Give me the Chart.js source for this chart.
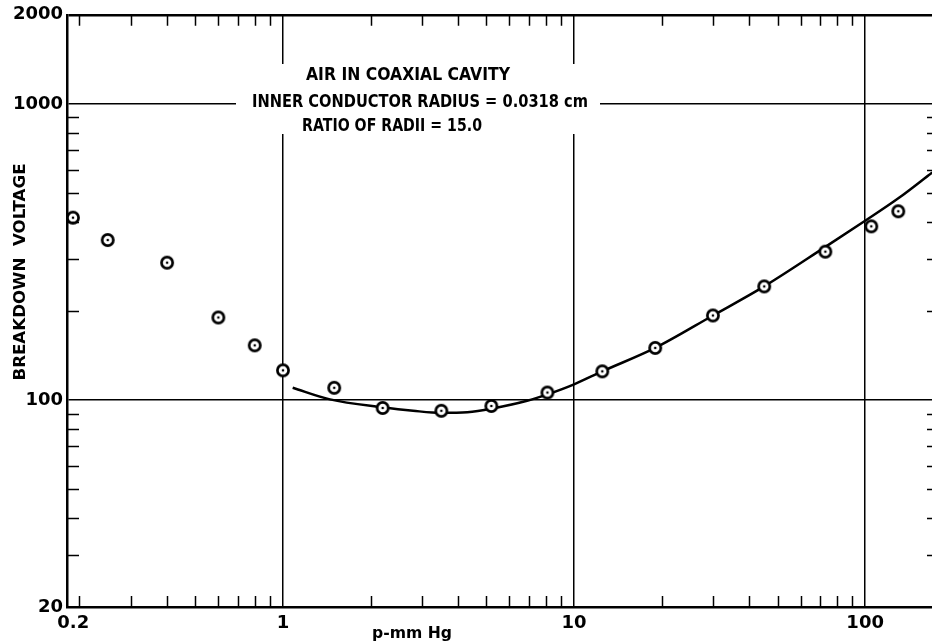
<!DOCTYPE html>
<html>
<head>
<meta charset="utf-8">
<script src="https://cdn.jsdelivr.net/npm/chart.js@4.4.1/dist/chart.umd.min.js"></script>
<style>
  html, body { margin: 0; padding: 0; background: #fff; }
  #wrap { width: 932px; height: 644px; position: relative; }
</style>
</head>
<body>
<div id="wrap"><canvas id="c" width="932" height="644"></canvas></div>
<script>
// ---- data ----
const pressure = [0.19, 0.25, 0.4, 0.6, 0.8, 1.0, 1.5, 2.2, 3.5, 5.2, 8.1, 12.5, 19, 30, 45, 73, 105, 130];
const voltage  = [413, 347, 291, 190, 153, 126, 110, 94, 92, 95.5, 106, 125, 150, 193, 242, 317, 386, 434];

const curvePressure = [1.08, 1.45, 2.2, 2.8, 3.5, 4.3, 5.2, 6.9, 8.1, 10, 12.5, 19, 30, 45, 73, 100, 130, 170];
const curveVoltage  = [110, 100.5, 94.5, 92, 90.5, 91, 93.5, 99.4, 104.5, 113, 125, 150, 193, 242, 329, 403, 480, 587];

const xTickValues = [0.2, 1, 10, 100];
const yTickValues = [20, 100, 1000, 2000];
const xMinorTicks = [0.2, 0.3, 0.4, 0.5, 0.6, 0.7, 0.8, 0.9, 2, 3, 4, 5, 6, 7, 8, 9, 20, 30, 40, 50, 60, 70, 80, 90];
const yMinorTicks = [30, 40, 50, 60, 70, 80, 90, 200, 300, 400, 500, 600, 700, 800, 900];

const annotationLines = ['AIR IN COAXIAL CAVITY', 'INNER CONDUCTOR RADIUS = 0.0318 cm', 'RATIO OF RADII = 15.0'];
const xTitle = 'p-mm Hg';
const yTitle = 'BREAKDOWN  VOLTAGE';

// ---- marker: ring with centre dot ----
function makeMarker() {
  const c = document.createElement('canvas');
  c.width = 18; c.height = 18;
  const g = c.getContext('2d');
  g.fillStyle = '#fff';
  g.strokeStyle = '#000';
  g.lineWidth = 2.7;
  g.beginPath(); g.arc(9, 9, 5.6, 0, Math.PI * 2); g.fill(); g.stroke();
  g.fillStyle = '#000';
  g.beginPath(); g.arc(9, 9, 1.3, 0, Math.PI * 2); g.fill();
  return c;
}

const FONT = '"DejaVu Sans", "Liberation Sans", sans-serif';
Chart.defaults.font.family = FONT;
Chart.defaults.font.weight = 'bold';
Chart.defaults.color = '#000';

function fitText(ctx, text, cx, cy, w, rotate) {
  const m = ctx.measureText(text).width;
  ctx.save();
  ctx.translate(cx, cy);
  if (rotate) ctx.rotate(-Math.PI / 2);
  ctx.scale(w / m, 1);
  ctx.fillText(text, 0, 0);
  ctx.restore();
}

const decor = {
  id: 'decor',
  beforeDatasetsDraw(chart) {
    const ctx = chart.ctx;
    ctx.save();
    // white panel interrupting the grid behind the annotation
    ctx.fillStyle = '#fff';
    ctx.fillRect(236, 64, 364, 70);
    ctx.fillStyle = '#000';
    ctx.textAlign = 'center';
    ctx.textBaseline = 'middle';
    ctx.font = 'bold 17px ' + FONT;
    const spec = [
      { cx: 408, cy: 76, w: 204 },
      { cx: 420, cy: 103, w: 336 },
      { cx: 392, cy: 127, w: 180 }
    ];
    annotationLines.forEach((t, i) => fitText(ctx, t, spec[i].cx, spec[i].cy, spec[i].w, false));
    ctx.restore();
  },
  afterDraw(chart) {
    const ctx = chart.ctx;
    const a = chart.chartArea;
    const xs = chart.scales.x, ys = chart.scales.y;
    ctx.save();
    ctx.strokeStyle = '#000';
    ctx.lineWidth = 1.5;
    ctx.beginPath();
    xMinorTicks.forEach(v => {
      const px = Math.round(xs.getPixelForValue(v)) + 0.5;
      ctx.moveTo(px, a.bottom); ctx.lineTo(px, a.bottom - 11);
      ctx.moveTo(px, a.top); ctx.lineTo(px, a.top + 11);
    });
    yMinorTicks.forEach(v => {
      const py = Math.round(ys.getPixelForValue(v)) + 0.5;
      ctx.moveTo(a.left, py); ctx.lineTo(a.left + 12, py);
      ctx.moveTo(a.right, py); ctx.lineTo(a.right - 5, py);
    });
    ctx.stroke();
    // axis titles
    ctx.fillStyle = '#000';
    ctx.font = 'bold 16px ' + FONT;
    ctx.textAlign = 'center';
    ctx.textBaseline = 'middle';
    fitText(ctx, xTitle, 412, 634, 80, false);
    fitText(ctx, yTitle, 21, 272, 217, true);
    ctx.restore();
  }
};

const curveData = curvePressure.map((p, i) => ({ x: p, y: curveVoltage[i] }));
const pointData = pressure.map((p, i) => ({ x: p, y: voltage[i] }));

new Chart(document.getElementById('c'), {
  type: 'scatter',
  data: {
    datasets: [
      {
        type: 'line',
        data: curveData,
        borderColor: '#000',
        borderWidth: 2.5,
        pointRadius: 0,
        fill: false,
        cubicInterpolationMode: 'monotone',
        order: 2
      },
      {
        data: pointData,
        pointStyle: makeMarker(),
        pointRadius: 9,
        showLine: false,
        order: 1
      }
    ]
  },
  options: {
    responsive: false,
    animation: false,
    devicePixelRatio: 1,
    layout: { autoPadding: false, padding: { top: 14, right: 0, left: 0, bottom: 0 } },
    plugins: { legend: { display: false }, tooltip: { enabled: false } },
    scales: {
      x: {
        type: 'logarithmic',
        min: 0.1812,
        max: 169.7,
        afterBuildTicks: s => { s.ticks = xTickValues.map(v => ({ value: v })); },
        afterFit: s => { s.height = 37; },
        ticks: {
          autoSkip: false,
          maxRotation: 0,
          padding: 6,
          font: { size: 18, weight: 'bold' },
          callback: v => (v === 0.2 ? '0.2  ' : String(v))
        },
        grid: {
          drawTicks: false,
          color: c => (c.tick && c.tick.value === 0.2 ? 'rgba(0,0,0,0)' : '#000'),
          lineWidth: 1.5
        },
        border: { display: true, color: '#000', width: 2.5 }
      },
      y: {
        type: 'logarithmic',
        min: 20,
        max: 2000,
        afterBuildTicks: s => { s.ticks = yTickValues.map(v => ({ value: v })); },
        afterFit: s => { s.width = 67; },
        ticks: {
          autoSkip: false,
          padding: 4,
          font: { size: 18, weight: 'bold' },
          callback: v => String(v)
        },
        grid: {
          drawTicks: false,
          color: '#000',
          lineWidth: c => (c.tick && c.tick.value === 2000 ? 2.5 : 1.5)
        },
        border: { display: true, color: '#000', width: 2.5 }
      }
    }
  },
  plugins: [decor]
});
</script>
</body>
</html>
